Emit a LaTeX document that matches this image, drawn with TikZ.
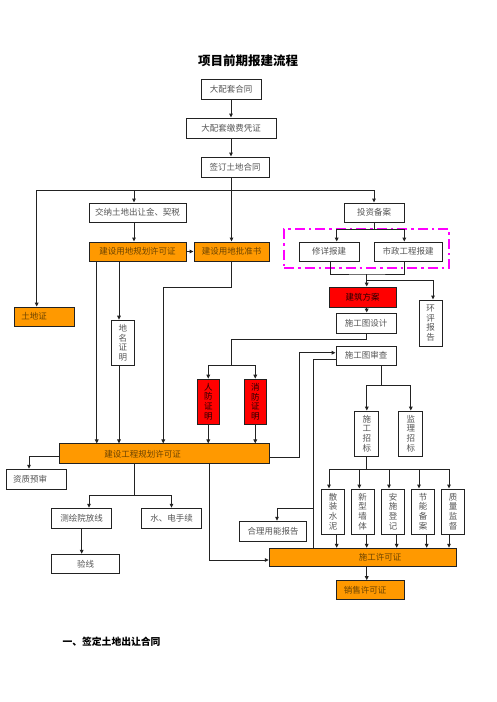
\documentclass[tikz,border=0pt]{standalone}
\usepackage{fontspec}
\newfontfamily\cjk{Noto Sans CJK SC}
\usetikzlibrary{arrows.meta}
\definecolor{org}{HTML}{FF9900}
\definecolor{txtg}{HTML}{555555}
\definecolor{txto}{HTML}{6B4300}
\definecolor{mag}{HTML}{FF00FF}
\definecolor{lnc}{HTML}{222222}
\begin{document}
\begin{tikzpicture}[x=1pt,y=-1pt,
  fnt/.style={font=\cjk\fontsize{8.5}{9.8}\selectfont},
  box/.style={draw=lnc, line width=1pt, inner sep=0pt, fnt, text=txtg, align=center, fill=white},
  obox/.style={box, fill=org, text=txto},
  rbox/.style={box, fill=red, text=black!85!red},
  lbl/.style={fnt, text=txto},
  arr/.style={draw=lnc, line width=1pt, -{Triangle[length=4pt,width=3.6pt]}},
  ln/.style={draw=lnc, line width=1pt}]
\useasboundingbox (0,0) rectangle (496,702);
\fill[white] (0,0) rectangle (496,702);

% title
\node[font=\cjk\bfseries\fontsize{12.5}{14}\selectfont] (title) at (248,60.5) {项目前期报建流程};
\node[font=\cjk\bfseries\fontsize{9.8}{12}\selectfont, anchor=west] (sec) at (59,641.7) {一、签定土地出让合同};

% dashed group
\node[draw=mag, line width=2.3pt, dash pattern=on 10pt off 4pt on 2.5pt off 4pt, minimum width=165, minimum height=39, inner sep=0pt] (grp) at (366.5,248.5) {};

% boxes
\node[box,minimum width=60,minimum height=20] (dpt) at (231,89) {大配套合同};
\node[box,minimum width=90,minimum height=20] (jfpz) at (231,128) {大配套缴费凭证};
\node[box,minimum width=68,minimum height=20] (qd) at (235,167) {签订土地合同};
\node[box,minimum width=97,minimum height=19] (jn) at (137.5,212.5) {交纳土地出让金、契税};
\node[box,minimum width=60,minimum height=19] (tz) at (374,212.5) {投资备案};
\node[obox,minimum width=97,minimum height=19] (ghxk) at (137.5,251.5) {建设用地规划许可证};
\node[obox,minimum width=75,minimum height=19] (pzs) at (231.5,251.5) {建设用地批准书};
\node[box,minimum width=60,minimum height=19] (xx) at (329,251.5) {修详报建};
\node[box,minimum width=68,minimum height=19] (sz) at (408,251.5) {市政工程报建};
\node[obox,minimum width=60,minimum height=19,label={[lbl,xshift=-10pt]center:土地证}] (tdz) at (44,316.5) {};
\node[rbox,minimum width=67,minimum height=20] (jzfa) at (362.5,297) {建筑方案};
\node[box,minimum width=23,minimum height=46] (hp) at (430.5,323) {环\\评\\报\\告};
\node[box,minimum width=60,minimum height=20] (sjsj) at (366,323) {施工图设计};
\node[box,minimum width=23,minimum height=45] (dm) at (122.8,342.7) {地\\名\\证\\明};
\node[box,minimum width=60,minimum height=19] (sc) at (366,355.5) {施工图审查};
\node[rbox,minimum width=22,minimum height=45] (rf) at (208.3,401.7) {人\\防\\证\\明};
\node[rbox,minimum width=22,minimum height=45] (xf) at (255.3,401.7) {消\\防\\证\\明};
\node[box,minimum width=23.7,minimum height=45] (sgzb) at (366.8,433.5) {施\\工\\招\\标};
\node[box,minimum width=23.7,minimum height=45] (jlzb) at (410.8,433.5) {监\\理\\招\\标};
\node[obox,minimum width=210.3,minimum height=19.7,label={[lbl,xshift=-21.5pt]center:建设工程规划许可证}] (gc) at (164.2,453.8) {};
\node[box,minimum width=60,minimum height=20,label={[fnt,text=txtg,xshift=-6.7pt]center:资质预审}] (zz) at (36.7,479.3) {};
\node[box,minimum width=59.6,minimum height=20] (ch) at (81.5,518.3) {测绘院放线};
\node[box,minimum width=59.6,minimum height=20] (sd) at (171.5,518.3) {水、电手续};
\node[box,minimum width=67.4,minimum height=20] (hl) at (273,531.3) {合理用能报告};
\node[box,minimum width=22.7,minimum height=45] (b1) at (333,511.5) {散\\装\\水\\泥};
\node[box,minimum width=22.7,minimum height=45] (b2) at (362.7,511.5) {新\\型\\墙\\体};
\node[box,minimum width=22.7,minimum height=45] (b3) at (393,511.5) {安\\施\\登\\记};
\node[box,minimum width=22.7,minimum height=45] (b4) at (423,511.5) {节\\能\\备\\案};
\node[box,minimum width=22.7,minimum height=45] (b5) at (453,511.5) {质\\量\\监\\督};
\node[box,minimum width=67.6,minimum height=19] (yx) at (85.5,563.8) {验线};
\node[obox,minimum width=187.4,minimum height=18.4,label={[lbl,xshift=17pt]center:施工许可证}] (sg) at (363,557.5) {};
\node[obox,minimum width=67.6,minimum height=18.6,label={[lbl,xshift=-5.5pt]center:销售许可证}] (xs) at (370.5,590) {};

% connectors (top)
\draw[arr] (dpt) -- (jfpz);
\draw[arr] (jfpz.south) -- (jfpz.south |- qd.north);
\draw[arr] (qd.south -| 231.5,0) -- (pzs.north);
\coordinate (L) at (36.7,190);
\coordinate (R) at (374,190);
\draw[ln] (L) -- (R);
\draw[arr] (L) -- (L |- tdz.north);
\draw[arr] (R) -- (tz.north);
\draw[arr] (L -| 134,0) -- (jn.north -| 134,0);
\draw[arr] (jn.south -| 134,0) -- (ghxk.north -| 134,0);
\draw[arr] (ghxk.east) -- (pzs.west);

% investment branch
\coordinate (T) at (374,229.3);
\coordinate (Ta) at (336.7,229.3);
\coordinate (Tb) at (404.3,229.3);
\draw[ln] (tz.south) -- (T);
\draw[ln] (Ta) -- (Tb);
\draw[arr] (Ta) -- (Ta |- xx.north);
\draw[arr] (Tb) -- (Tb |- sz.north);
\coordinate (J1) at (366.7,274);
\draw[ln] (xx.south -| 330,0) |- (J1) -| (sz.south -| 404,0);
\draw[arr] (J1) -- (jzfa.north -| J1);
\draw[arr] (J1 |- 0,280) -| (hp.north -| 433,0);
\draw[arr] (jzfa.south -| J1) -- (sjsj.north -| J1);
\coordinate (J2) at (231.7,339);
\coordinate (J3) at (231.7,365);
\draw[ln] (sjsj.south -| 366,0) |- (J2) -- (J3);
\draw[ln] (J3 -| rf.north) -- (J3 -| xf.north);
\draw[arr] (J3 -| rf.north) -- (rf.north);
\draw[arr] (J3 -| xf.north) -- (xf.north);
\draw[arr] (rf.south) -- (rf.south |- gc.north);
\draw[arr] (xf.south) -- (xf.south |- gc.north);

% left permits
\draw[arr] (ghxk.south -| 96.7,0) -- (gc.north -| 96.7,0);
\draw[arr] (ghxk.south -| 119,0) -- (dm.north -| 119,0);
\draw[arr] (dm.south -| 119,0) -- (gc.north -| 119,0);
\coordinate (K) at (163.3,287.3);
\draw[arr] (pzs.south) |- (K) -- (K |- gc.north);

% below planning permit
\draw[arr] (gc.west |- 0,456) -| (zz.north -| 29,0);
\coordinate (J4) at (134.7,495);
\draw[ln] (gc.south -| J4) -- (J4);
\draw[ln] (J4 -| 89,0) -- (J4 -| sd.north);
\draw[arr] (J4 -| 89,0) -- (ch.north -| 89,0);
\draw[arr] (J4 -| sd.north) -- (sd.north);
\draw[arr] (ch.south -| 81.7,0) -- (yx.north -| 81.7,0);

% to drawing review
\coordinate (K2) at (299,352.7);
\draw[arr] (gc.east |- 0,457) -| (K2) -- (sc.west |- K2);
\coordinate (K3) at (313,359);
\draw[ln] (sc.west |- K3) -- (K3) -- (K3 |- sg.north);
\draw[arr] (K3 |- 0,508.3) -| (hl.north -| 277,0);
\draw[arr] (gc.south -| 209.3,0) |- (sg.west |- 0,560);

% tenders
\coordinate (J5) at (381.7,385);
\draw[ln] (sc.south -| J5) -- (J5);
\draw[ln] (J5 -| sgzb.north) -- (J5 -| jlzb.north);
\draw[arr] (J5 -| sgzb.north) -- (sgzb.north);
\draw[arr] (J5 -| jlzb.north) -- (jlzb.north);
\coordinate (J6) at (366.8,469);
\draw[ln] (sgzb.south) -- (J6);
\draw[ln] (J6 -| 329,0) -- (J6 -| 449,0);
\foreach \b/\xt/\xb in {b1/329/336.7, b2/359.3/366.7, b3/389/396.7, b4/419/426.7, b5/449/449}{
  \draw[arr] (J6 -| \xt,0) -- (\b.north -| \xt,0);
  \draw[arr] (\b.south -| \xb,0) -- (sg.north -| \xb,0);
}
\draw[arr] (sg.south -| 366.7,0) -- (xs.north -| 366.7,0);
\end{tikzpicture}
\end{document}
